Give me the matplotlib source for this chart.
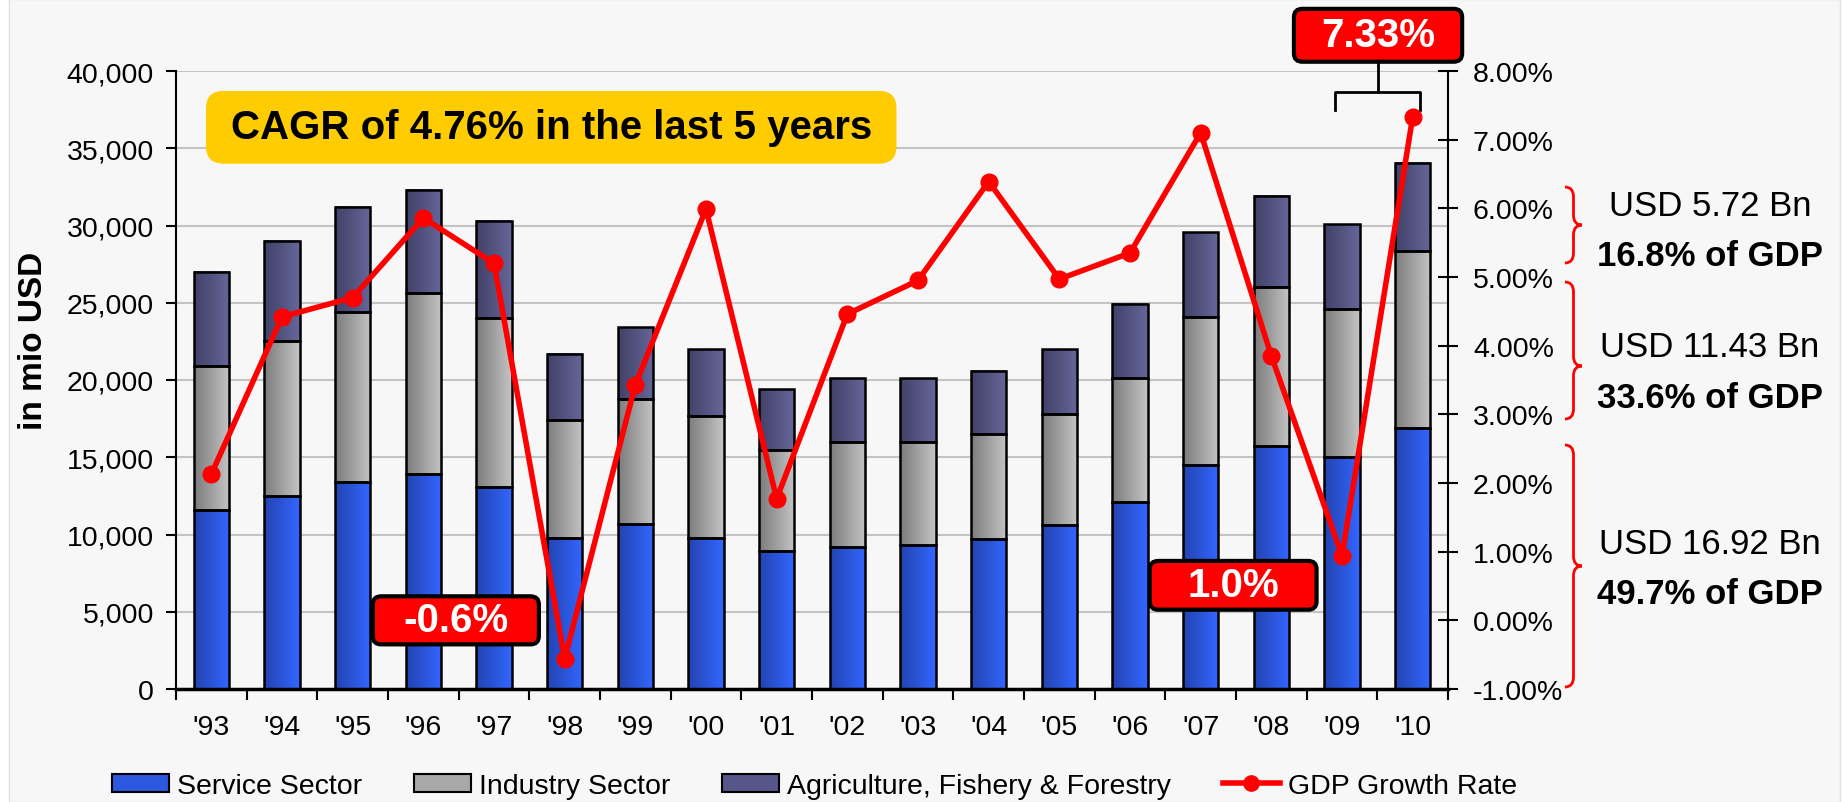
import numpy as np
import matplotlib
matplotlib.use("Agg")
import matplotlib.pyplot as plt
from matplotlib.colors import LinearSegmentedColormap
from matplotlib.patches import FancyBboxPatch, PathPatch, Rectangle, Patch
from matplotlib.path import Path
from matplotlib.lines import Line2D
from matplotlib.ticker import FuncFormatter

plt.rcParams["font.family"] = ["Liberation Sans", "DejaVu Sans"]

# data (mio USD / %)
years = ["'93", "'94", "'95", "'96", "'97", "'98", "'99", "'00", "'01",
         "'02", "'03", "'04", "'05", "'06", "'07", "'08", "'09", "'10"]
service = [11600, 12500, 13400, 13900, 13100, 9800, 10700, 9800, 8900,
           9200, 9300, 9700, 10600, 12100, 14500, 15700, 15000, 16920]
industry = [9300, 10000, 11000, 11700, 10900, 7600, 8100, 7900, 6600,
            6800, 6700, 6800, 7200, 8000, 9600, 10300, 9600, 11430]
agri = [6100, 6500, 6800, 6700, 6300, 4300, 4600, 4300, 3900,
        4100, 4100, 4100, 4200, 4800, 5500, 5900, 5500, 5720]
gdp_growth = [2.13, 4.42, 4.70, 5.86, 5.20, -0.56, 3.43, 5.99, 1.77,
              4.46, 4.95, 6.39, 4.97, 5.35, 7.10, 3.85, 0.94, 7.33]
legend_labels = ["Service Sector", "Industry Sector",
                 "Agriculture, Fishery & Forestry", "GDP Growth Rate"]
side_notes = [("USD 5.72 Bn", "16.8% of GDP"),
              ("USD 11.43 Bn", "33.6% of GDP"),
              ("USD 16.92 Bn", "49.7% of GDP")]

W, H = 1843, 803
fig = plt.figure(figsize=(W / 100, H / 100), dpi=100, facecolor="white")
fig.add_artist(Rectangle((9 / W, 0), (1840 - 9) / W, 1, transform=fig.transFigure,
                         facecolor="#f7f7f7", edgecolor="#e2e2e2", lw=1, zorder=-10))

ax = fig.add_axes([176 / W, 1 - 690 / H, (1448 - 176) / W, (690 - 72) / H])
ax.set_facecolor("none")

cm_serv = LinearSegmentedColormap.from_list("s", ["#2344b0", "#3366ff"])
cm_ind = LinearSegmentedColormap.from_list("i", ["#7c7c7c", "#c4c4c4"])
cm_agr = LinearSegmentedColormap.from_list("a", ["#414168", "#66669a"])
grad = np.linspace(0, 1, 64).reshape(1, -1)

x = np.arange(len(years))
s = np.array(service)
i_ = np.array(industry)
a = np.array(agri)
for vals, base, cm in [(s, 0, cm_serv), (i_, s, cm_ind), (a, s + i_, cm_agr)]:
    bars = ax.bar(x, vals, 0.5, bottom=base, facecolor="none",
                  edgecolor="black", lw=1.8, zorder=3)
    for b in bars:
        x0, y0, w, h = b.get_x(), b.get_y(), b.get_width(), b.get_height()
        ax.imshow(grad, extent=[x0, x0 + w, y0, y0 + h], cmap=cm,
                  aspect="auto", zorder=2, interpolation="bilinear")

ax.set_xlim(-0.5, len(years) - 0.5)
ax.set_ylim(0, 40000)
ax.set_yticks(range(0, 40001, 5000))
ax.yaxis.set_major_formatter(FuncFormatter(lambda v, p: f"{v:,.0f}"))
ax.grid(axis="y", color="#c4c4c4", lw=1.5)
ax.set_axisbelow(True)
ax.set_xticks(x)
ax.set_xticklabels(years)
ax.set_xticks(np.arange(-0.5, len(years)), minor=True)
ax.tick_params(axis="x", which="major", length=0, labelsize=20.5, pad=18)
ax.tick_params(axis="x", which="minor", length=8, width=1.5, direction="out")
ax.tick_params(axis="y", length=7, width=1.5, direction="out", labelsize=20.5, pad=9)
for sp in ["top", "right"]:
    ax.spines[sp].set_visible(False)
ax.spines["left"].set_linewidth(1.5)
ax.spines["bottom"].set_linewidth(2.5)
ax.set_ylabel("in mio USD", fontsize=24, fontweight="bold")
ax.yaxis.set_label_coords(-0.1, 0.565)

ax2 = ax.twinx()
ax2.set_ylim(-1, 8)
ax2.set_yticks(range(-1, 9))
ax2.yaxis.set_major_formatter(FuncFormatter(lambda v, p: f"{v:.2f}%"))
ax2.tick_params(axis="y", length=14, width=1.5, direction="inout", labelsize=20.5, pad=11)
for sp in ["top", "left", "bottom"]:
    ax2.spines[sp].set_visible(False)
ax2.spines["right"].set_linewidth(1.5)
ax2.plot(x, gdp_growth, color="#ff0000", lw=4, marker="o", ms=12, zorder=4, clip_on=False)


def label_box(cx, cy, w, h, text, fc, tc, fs, ec="black", lw=3, rs=0.12):
    ax2.add_patch(FancyBboxPatch((cx - w / 2, cy - h / 2), w, h,
                                 boxstyle=f"round,pad=0,rounding_size={rs}",
                                 fc=fc, ec=ec, lw=lw, clip_on=False, zorder=6))
    ax2.text(cx, cy, text, color=tc, fontsize=fs, fontweight="bold",
             ha="center", va="center", zorder=7, clip_on=False)


label_box(4.81, 7.18, 9.77, 1.06, "CAGR of 4.76% in the last 5 years", "#ffcc00", "black", 29,
          ec="none", lw=0, rs=0.25)
label_box(3.46, 0.0, 2.35, 0.70, "-0.6%", "#ff0000", "white", 29)
label_box(14.46, 0.51, 2.36, 0.71, "1.0%", "#ff0000", "white", 29)
label_box(16.51, 8.52, 2.38, 0.77, "7.33%", "#ff0000", "white", 29)
ax2.plot([15.9, 15.9, 17.1, 17.1], [7.43, 7.69, 7.69, 7.43], color="black", lw=2, clip_on=False)
ax2.plot([16.51, 16.51], [7.69, 8.13], color="black", lw=2, clip_on=False)


def brace(x0, yt, yb, ym, w=17, r=10):
    xm = x0 + w / 2
    pts = [(x0, yt), (xm, yt), (xm, yt + r), (xm, ym - r), (xm, ym), (x0 + w, ym),
           (xm, ym), (xm, ym + r), (xm, yb - r), (xm, yb), (x0, yb)]
    codes = [Path.MOVETO, Path.CURVE3, Path.CURVE3, Path.LINETO, Path.CURVE3, Path.CURVE3,
             Path.CURVE3, Path.CURVE3, Path.LINETO, Path.CURVE3, Path.CURVE3]
    pts = [(px / W, 1 - py / H) for px, py in pts]
    fig.add_artist(PathPatch(Path(pts, codes), transform=fig.transFigure,
                             fill=False, ec="#ff0000", lw=2))


brace(1565, 188, 264, 226)
brace(1565, 283, 420, 367)
brace(1565, 446, 688, 567)

for (t1, t2), yc in zip(side_notes, [206, 348, 544]):
    fig.text(1710 / W, 1 - yc / H, t1, fontsize=25, ha="center", va="center")
    fig.text(1710 / W, 1 - (yc + 51) / H, t2, fontsize=25, fontweight="bold",
             ha="center", va="center")

handles = [Patch(fc="#2c58e0", ec="black", lw=1.5),
           Patch(fc="#a8a8a8", ec="black", lw=1.5),
           Patch(fc="#56568a", ec="black", lw=1.5),
           Line2D([], [], color="#ff0000", lw=4, marker="o", ms=11)]
fig.legend(handles, legend_labels, loc="center left", bbox_to_anchor=(112 / W, 1 - 787 / H),
           ncol=4, frameon=False, fontsize=20.5, handlelength=2.0, handleheight=0.6,
           handletextpad=0.3, columnspacing=1.8, borderpad=0, borderaxespad=0)

fig.savefig("out.png", dpi=100, facecolor=fig.get_facecolor())
